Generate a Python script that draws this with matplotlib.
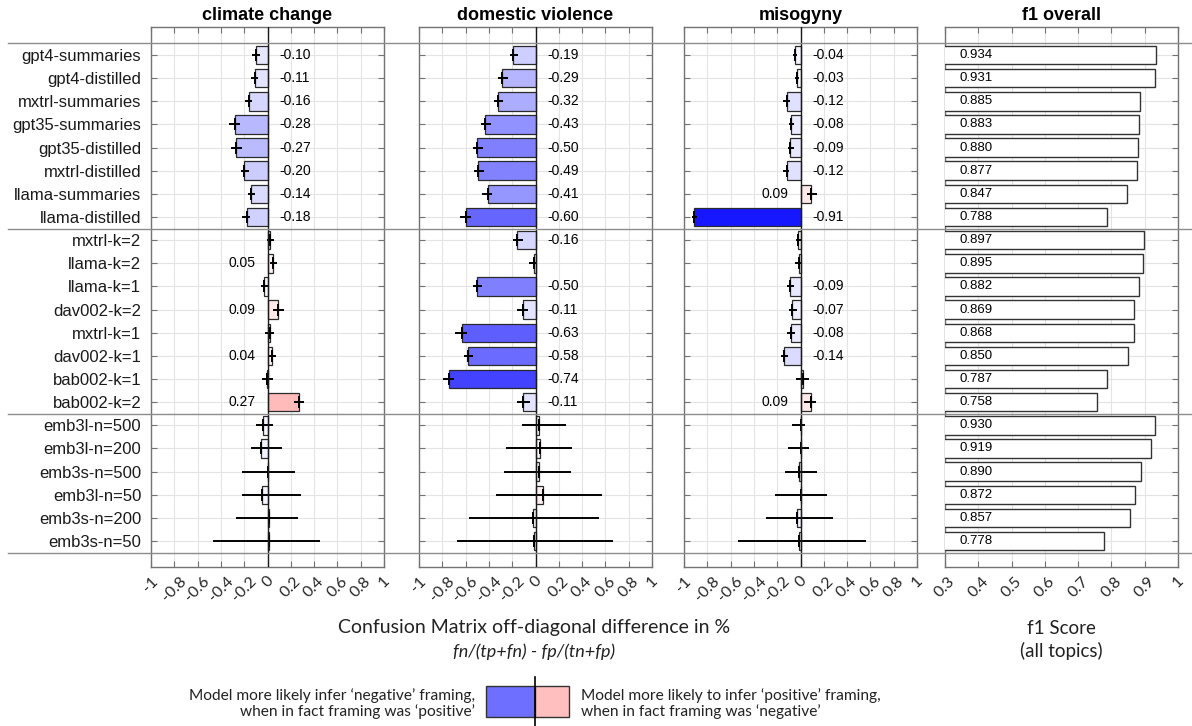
import matplotlib.pyplot as plt
import numpy as np
from matplotlib.lines import Line2D
from matplotlib.patches import Rectangle
from matplotlib.transforms import blended_transform_factory

plt.rcParams["font.family"] = ["Liberation Sans", "DejaVu Sans"]

models = [
    "gpt4-summaries", "gpt4-distilled", "mxtrl-summaries", "gpt35-summaries",
    "gpt35-distilled", "mxtrl-distilled", "llama-summaries", "llama-distilled",
    "mxtrl-k=2", "llama-k=2", "llama-k=1", "dav002-k=2", "mxtrl-k=1",
    "dav002-k=1", "bab002-k=1", "bab002-k=2",
    "emb3l-n=500", "emb3l-n=200", "emb3s-n=500", "emb3l-n=50",
    "emb3s-n=200", "emb3s-n=50",
]
topics = ["climate change", "domestic violence", "misogyny"]

# off-diagonal difference, CI bounds, and whether the value gets a label
climate_val = [-0.10, -0.11, -0.16, -0.28, -0.27, -0.20, -0.14, -0.18,
               0.02, 0.05, -0.03, 0.09, 0.02, 0.04, -0.005, 0.27,
               -0.04, -0.055, 0.003, -0.045, 0.014, 0.017]
climate_lo = [-0.13, -0.14, -0.195, -0.33, -0.31, -0.225, -0.17, -0.22,
              -0.005, 0.02, -0.06, 0.05, -0.02, 0.0, -0.05, 0.23,
              -0.095, -0.14, -0.215, -0.215, -0.27, -0.466]
climate_hi = [-0.065, -0.08, -0.13, -0.24, -0.22, -0.16, -0.11, -0.15,
              0.06, 0.08, 0.0, 0.14, 0.06, 0.075, 0.046, 0.316,
              0.05, 0.124, 0.24, 0.287, 0.264, 0.45]
climate_sig = [1, 1, 1, 1, 1, 1, 1, 1, 0, 1, 0, 1, 0, 1, 0, 1, 0, 0, 0, 0, 0, 0]

domestic_val = [-0.19, -0.29, -0.32, -0.43, -0.50, -0.49, -0.41, -0.60,
                -0.16, -0.017, -0.50, -0.11, -0.63, -0.58, -0.74, -0.11,
                0.029, 0.037, 0.031, 0.063, -0.023, -0.017]
domestic_lo = [-0.217, -0.32, -0.357, -0.47, -0.538, -0.526, -0.46, -0.647,
               -0.19, -0.054, -0.54, -0.155, -0.687, -0.615, -0.79, -0.163,
               -0.12, -0.25, -0.27, -0.335, -0.575, -0.67]
domestic_hi = [-0.146, -0.24, -0.277, -0.383, -0.452, -0.44, -0.37, -0.555,
               -0.106, 0.017, -0.458, -0.066, -0.584, -0.538, -0.698, -0.05,
               0.263, 0.315, 0.303, 0.57, 0.544, 0.667]
domestic_sig = [1, 1, 1, 1, 1, 1, 1, 1, 1, 0, 1, 1, 1, 1, 1, 1, 0, 0, 0, 0, 0, 0]

misogyny_val = [-0.044, -0.026, -0.12, -0.08, -0.09, -0.12, 0.09, -0.91,
                -0.02, -0.017, -0.09, -0.07, -0.08, -0.14, 0.02, 0.09,
                0.005, 0.002, -0.017, 0.002, -0.034, -0.014]
misogyny_lo = [-0.066, -0.046, -0.15, -0.10, -0.11, -0.146, 0.054, -0.934,
               -0.037, -0.043, -0.117, -0.10, -0.117, -0.17, -0.037, 0.034,
               -0.07, -0.11, -0.137, -0.223, -0.30, -0.54]
misogyny_hi = [-0.026, -0.01, -0.09, -0.06, -0.054, -0.095, 0.14, -0.885,
               0.014, 0.003, -0.06, -0.03, -0.05, -0.11, 0.069, 0.135,
               0.04, 0.075, 0.14, 0.226, 0.278, 0.565]
misogyny_sig = [1, 1, 1, 1, 1, 1, 1, 1, 0, 0, 1, 1, 1, 1, 0, 1, 0, 0, 0, 0, 0, 0]

f1_scores = [0.934, 0.931, 0.885, 0.883, 0.880, 0.877, 0.847, 0.788,
             0.897, 0.895, 0.882, 0.869, 0.868, 0.850, 0.787, 0.758,
             0.930, 0.919, 0.890, 0.872, 0.857, 0.778]

group_breaks = [0.5, 8.5, 16.5, 22.5]
diff_ticks = np.round(np.arange(-1, 1.01, 0.2), 1)
f1_ticks = np.round(np.arange(0.3, 1.01, 0.1), 1)

LABEL_FONT = ["Lato", "DejaVu Sans"]
SPINE_COLOR = "#737373"


def bar_color(v):
    s = 1 - min(1.0, abs(v))
    if v < 0:
        return (s, s, 1.0)
    return (1.0, s, s)


def fmt_tick(t):
    if t == 0:
        return "0"
    if abs(t) == 1:
        return f"{t:.0f}"
    return f"{t:g}"


def style_axes(ax, ticks):
    ax.set_ylim(23.12, -0.21)
    ax.set_yticks(np.arange(1, len(models) + 1))
    ax.set_xticks(ticks)
    ax.set_xticklabels([fmt_tick(t) for t in ticks], rotation=45, ha="center",
                       fontsize=11.5, family=LABEL_FONT, color="#262626")
    ax.tick_params(direction="in", length=4, width=0.8, top=True, right=True,
                   color=SPINE_COLOR, pad=5)
    ax.grid(True, color="#e4e4e4", linewidth=0.8)
    ax.set_axisbelow(True)
    for sp in ax.spines.values():
        sp.set_color(SPINE_COLOR)
        sp.set_linewidth(1.0)


fig = plt.figure(figsize=(11.92, 7.26), dpi=100)
W, H = 1192, 726
panel_left = [151, 419, 684, 945]
panel_w = 233
ax_bottom = 1 - 567 / H
ax_height = (567 - 27) / H
axes = [fig.add_axes([l / W, ax_bottom, panel_w / W, ax_height]) for l in panel_left]

y = np.arange(1, len(models) + 1)
topic_data = [
    (climate_val, climate_lo, climate_hi, climate_sig),
    (domestic_val, domestic_lo, domestic_hi, domestic_sig),
    (misogyny_val, misogyny_lo, misogyny_hi, misogyny_sig),
]

for ax, title, (vals, lo, hi, sig) in zip(axes[:3], topics, topic_data):
    vals = np.array(vals)
    lo = np.array(lo)
    hi = np.array(hi)
    ax.barh(y, vals, height=0.8, color=[bar_color(v) for v in vals],
            edgecolor="#2a2a2a", linewidth=0.9, zorder=3)
    xerr = np.vstack([np.maximum(vals - lo, 0), np.maximum(hi - vals, 0)])
    ax.errorbar(vals, y, xerr=xerr, fmt="|", color="black", ms=9, mew=1.4,
                elinewidth=1.4, capsize=0, zorder=4)
    ax.axvline(0, color="#1a1a1a", linewidth=1.0, zorder=5)
    for yi, v, s in zip(y, vals, sig):
        if not s:
            continue
        if v < 0:
            ax.text(0.1, yi, f"{v:.2f}", ha="left", va="center", fontsize=10, zorder=6)
        else:
            ax.text(-0.1, yi, f"{v:.2f}", ha="right", va="center", fontsize=10, zorder=6)
    ax.set_xlim(-1, 1)
    style_axes(ax, diff_ticks)
    ax.set_title(title, fontsize=13, fontweight="bold", pad=5)

ax_f1 = axes[3]
ax_f1.barh(y, f1_scores, height=0.8, color="white", edgecolor="#333333",
           linewidth=1.0, zorder=3)
for yi, v in zip(y, f1_scores):
    ax_f1.text(0.345, yi, f"{v:.3f}", ha="left", va="center", fontsize=9.5, zorder=6)
ax_f1.set_xlim(0.3, 1)
style_axes(ax_f1, f1_ticks)
ax_f1.set_title("f1 overall", fontsize=13, fontweight="bold", pad=5)

axes[0].set_yticklabels(models, fontsize=12, color="#1a1a1a")
for ax in axes[1:]:
    ax.set_yticklabels([])
axes[0].tick_params(axis="y", pad=7)

# group separators across the whole figure
trans = blended_transform_factory(fig.transFigure, axes[0].transData)
for yb in group_breaks:
    fig.add_artist(Line2D([8 / W, 1.0], [yb, yb], transform=trans,
                          color="#8c8c8c", linewidth=1.0, zorder=10))

# axis captions
fig.text(534 / W, 1 - 628 / H, "Confusion Matrix off-diagonal difference in %",
         ha="center", va="center", fontsize=14, family=LABEL_FONT, color="#222222")
fig.text(534 / W, 1 - 652 / H, "fn/(tp+fn) - fp/(tn+fp)", ha="center", va="center",
         fontsize=13, style="italic", family=LABEL_FONT, color="#222222")
fig.text(1061 / W, 1 - 628 / H, "f1 Score", ha="center", va="center",
         fontsize=13.5, family=LABEL_FONT, color="#222222")
fig.text(1061 / W, 1 - 651 / H, "(all topics)", ha="center", va="center",
         fontsize=13.5, family=LABEL_FONT, color="#222222")

# colour key
key_y0, key_y1 = 1 - 717 / H, 1 - 686 / H
fig.add_artist(Rectangle((486 / W, key_y0), 49 / W, key_y1 - key_y0,
                         transform=fig.transFigure, facecolor=bar_color(-0.57),
                         edgecolor="#333333", linewidth=1.0))
fig.add_artist(Rectangle((535 / W, key_y0), 34 / W, key_y1 - key_y0,
                         transform=fig.transFigure, facecolor=bar_color(0.25),
                         edgecolor="#333333", linewidth=1.0))
fig.add_artist(Line2D([535 / W, 535 / W], [0, 1 - 677 / H], transform=fig.transFigure,
                      color="black", linewidth=1.2))
fig.text(475 / W, 1 - 703.5 / H,
         "Model more likely infer \u2018negative\u2019 framing,\nwhen in fact framing was \u2018positive\u2019",
         ha="right", va="center", multialignment="right", fontsize=11.2,
         family=LABEL_FONT, color="#222222", linespacing=1.1)
fig.text(581 / W, 1 - 703.5 / H,
         "Model more likely to infer \u2018positive\u2019 framing,\nwhen in fact framing was \u2018negative\u2019",
         ha="left", va="center", multialignment="left", fontsize=11.2,
         family=LABEL_FONT, color="#222222", linespacing=1.1)

fig.savefig("out.png", dpi=100, facecolor="white")
